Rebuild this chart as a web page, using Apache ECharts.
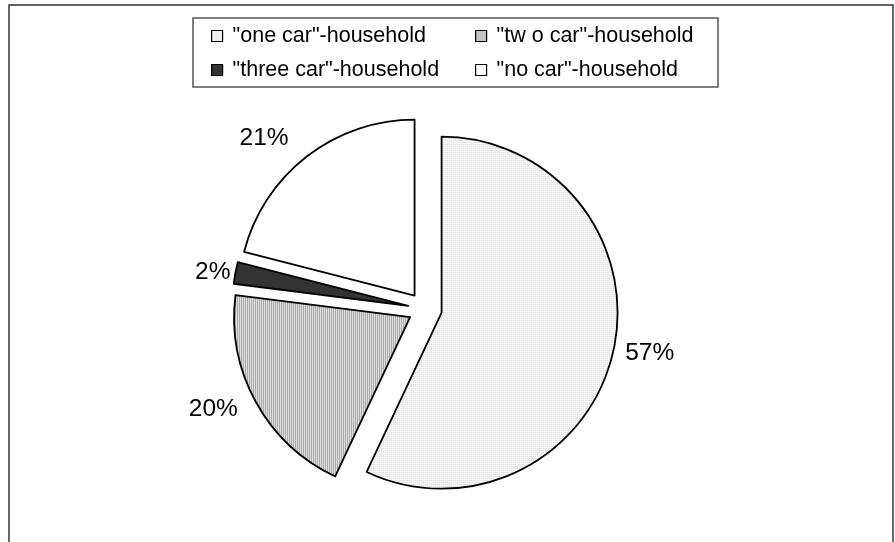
<!DOCTYPE html>
<html>
<head>
<meta charset="utf-8">
<script src="https://cdn.jsdelivr.net/npm/echarts@6/dist/echarts.min.js"></script>
<style>
html,body{margin:0;padding:0;background:#fff;}
#chart{width:895px;height:542px;}
</style>
</head>
<body>
<div id="chart"></div>
<script>
// ---- data ----
const categories = ['"one car"-household', '"tw o car"-household', '"three car"-household', '"no car"-household'];
const shares = [57, 20, 2, 21];
const legendColumn1 = ['"one car"-household', '"three car"-household'];
const legendColumn2 = ['"tw o car"-household', '"no car"-household'];

// ---- styles ----
function makePattern(w, h, draw) {
  const c = document.createElement('canvas');
  c.width = w; c.height = h;
  const ctx = c.getContext('2d');
  draw(ctx);
  return { image: c, repeat: 'repeat' };
}
const dotFill = makePattern(2, 2, ctx => {
  ctx.fillStyle = '#ffffff'; ctx.fillRect(0, 0, 2, 2);
  ctx.fillStyle = '#c4c4c4'; ctx.fillRect(0, 0, 1, 1);
});
const stripeFill = makePattern(2, 1, ctx => {
  ctx.fillStyle = '#a6a6a6'; ctx.fillRect(0, 0, 1, 1);
  ctx.fillStyle = '#e2e2e2'; ctx.fillRect(1, 0, 1, 1);
});
const fills = [dotFill, stripeFill, '#333333', '#ffffff'];
const labelLineLengths = [8, 16, 1, 23];

const chart = echarts.init(document.getElementById('chart'), null, { renderer: 'canvas' });

const pieData = categories.map((name, i) => ({
  name: name,
  value: shares[i],
  selected: true,
  itemStyle: { color: fills[i], borderColor: '#000', borderWidth: 1.8 },
  select: { itemStyle: { color: fills[i], borderColor: '#000', borderWidth: 1.8 } },
  labelLine: { show: false, length: labelLineLengths[i], length2: 0 }
}));

const legendBase = {
  orient: 'vertical',
  top: 25,
  padding: 0,
  itemGap: 12,
  itemWidth: 11,
  itemHeight: 11,
  icon: 'rect',
  selectedMode: false,
  itemStyle: { borderColor: '#000', borderWidth: 1.2 },
  textStyle: { fontFamily: 'Liberation Sans, Arial, sans-serif', fontSize: 21.5, color: '#000', padding: [0, 0, 0, 5] }
};

chart.setOption({
  animation: false,
  backgroundColor: '#fff',
  graphic: [
    { type: 'rect', silent: true, shape: { x: 9, y: 5, width: 884, height: 600 },
      style: { fill: 'none', stroke: '#333', lineWidth: 1.5 } },
    { type: 'rect', silent: true, shape: { x: 193, y: 18, width: 525, height: 69 },
      style: { fill: 'none', stroke: '#555', lineWidth: 1.5 } }
  ],
  legend: [
    Object.assign({}, legendBase, { left: 211, data: legendColumn1 }),
    Object.assign({}, legendBase, { left: 475, data: legendColumn2 })
  ],
  series: [{
    type: 'pie',
    center: [425, 309],
    radius: 176,
    startAngle: 90,
    clockwise: true,
    selectedMode: 'multiple',
    selectedOffset: 17,
    avoidLabelOverlap: false,
    emphasis: { disabled: true },
    label: {
      show: true,
      position: 'outside',
      formatter: '{c}%',
      fontFamily: 'Liberation Sans, Arial, sans-serif',
      fontSize: 24.5,
      color: '#000',
      distanceToLabelLine: 4
    },
    labelLine: { show: false, length: 10, length2: 0 },
    data: pieData
  }]
});
</script>
</body>
</html>
